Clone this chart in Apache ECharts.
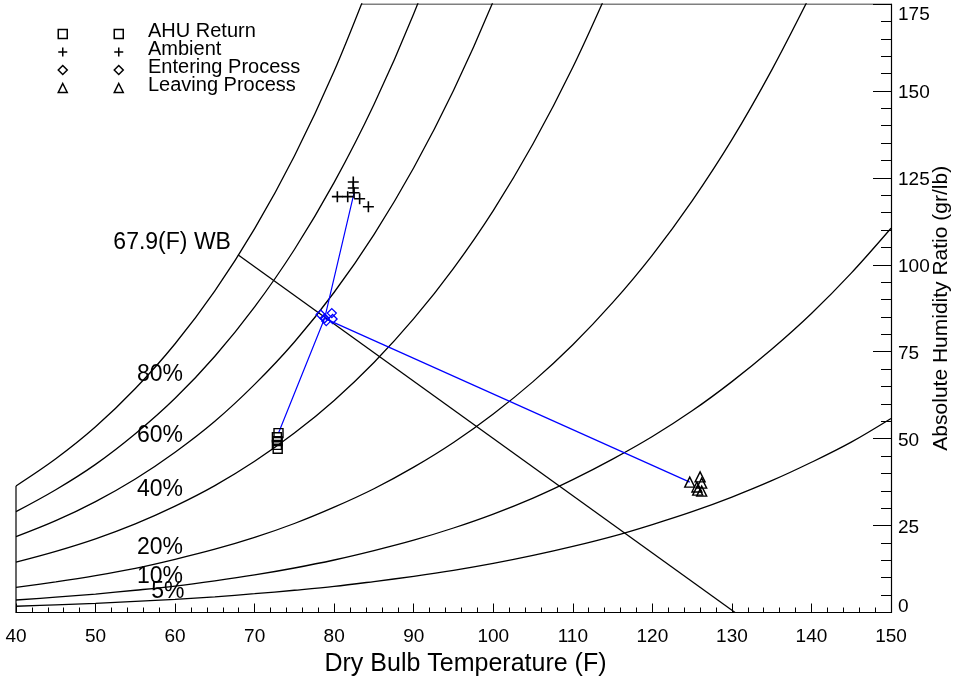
<!DOCTYPE html>
<html>
<head>
<meta charset="utf-8">
<script src="https://cdn.jsdelivr.net/npm/echarts@6/dist/echarts.min.js"></script>
<style>
  html, body { margin: 0; padding: 0; background: #fff; }
  #chart { width: 957px; height: 683px; }
</style>
</head>
<body>
<div id="chart"></div>
<script>
// Dry bulb temperature grid (F) used by the relative humidity curves
const tempF = [40, 45, 50, 55, 60, 65, 70, 75, 80, 85, 90, 95, 100, 105, 110, 115, 120, 125, 130, 135, 140, 145, 150];

// Humidity ratio (gr/lb) along each constant-RH curve, starting at 40 F
const rh100 = [36.4, 44.2, 53.4, 64.4, 77.3, 92.5, 110.4, 131.3, 155.7, 184.2];
const rh80 = [29.0, 35.3, 42.6, 51.4, 61.6, 73.7, 87.9, 104.4, 123.7, 146.1, 172.2, 202.5];
const rh60 = [21.8, 26.4, 31.9, 38.4, 46.1, 55.0, 65.6, 77.8, 92.1, 108.7, 127.9, 150.1, 175.8, 205.4];
const rh40 = [14.5, 17.6, 21.2, 25.5, 30.6, 36.5, 43.5, 51.6, 61.0, 71.9, 84.5, 99.0, 115.6, 134.8, 156.8, 181.9];
const rh20 = [7.2, 8.8, 10.6, 12.7, 15.3, 18.2, 21.6, 25.6, 30.3, 35.6, 41.8, 48.9, 57.1, 66.4, 77.0, 89.1, 102.8, 118.4, 136.0, 156.0, 178.2];
const rh10 = [3.6, 4.4, 5.3, 6.4, 7.6, 9.1, 10.8, 12.8, 15.1, 17.8, 20.8, 24.3, 28.3, 32.9, 38.2, 44.1, 50.6, 58.0, 66.4, 75.7, 86.0, 97.6, 110.5];
const rh5 = [1.8, 2.2, 2.6, 3.2, 3.8, 4.5, 5.4, 6.4, 7.5, 8.9, 10.4, 12.1, 14.1, 16.4, 19.0, 21.9, 25.3, 29.0, 33.2, 37.9, 43.2, 49.0, 55.8];

// Curve captions (the saturation curve carries none)
const rhNames = ['80%', '60%', '40%', '20%', '10%', '5%'];

// Constant wet bulb line: from saturation down to zero humidity
const wbLabel = '67.9(F) WB';
const wbLine = [[67.9, 102.9], [130.4, 0]];

// Measured states [dry bulb F, humidity ratio gr/lb]; first entry is the design point
const ahuReturn = [[73.0, 51.6], [72.8, 50.4], [72.9, 49.3], [72.8, 48.2], [72.9, 47.1]];
const ambient = [[82.5, 120.7], [82.4, 123.8], [82.4, 122.1], [81.7, 119.6], [80.4, 119.6], [83.2, 119.0], [84.3, 116.7]];
const enteringProcess = [[78.8, 84.6], [78.3, 85.7], [79.7, 86.1], [79.0, 83.8], [79.8, 84.4]];
const leavingProcess = [[124.7, 37.5], [126.0, 39.0], [126.2, 37.2], [125.6, 36.1], [125.7, 35.2], [126.2, 34.9]];

// Axis ticks
const xTicks = { min: 40, max: 150, step: 10 };
const yTicks = { min: 0, max: 175, step: 25 };

// ---- layout / style ----
const FONT = 'Liberation Sans, Arial, sans-serif';
const captionAt = [[58.1, 68.3], [58.1, 51.0], [58.1, 35.2], [58.1, 18.6], [58.1, 10.2], [59.1, 5.9]];

function curve(values) {
  return values.map((w, i) => [tempF[i], w]);
}

// where the saturation curve leaves the top of the chart
function exitAtTop(values, top) {
  for (let i = 1; i < values.length; i++) {
    if (values[i] >= top) {
      const f = (top - values[i - 1]) / (values[i] - values[i - 1]);
      return tempF[i - 1] + f * (tempF[i] - tempF[i - 1]);
    }
  }
  return tempF[values.length - 1];
}

const curveSeries = [rh100, rh80, rh60, rh40, rh20, rh10, rh5].map((vals) => ({
  type: 'line',
  data: curve(vals),
  showSymbol: false,
  smooth: 0.35,
  silent: true,
  lineStyle: { color: '#000', width: 1.3 },
  z: 2
}));

const satTop = exitAtTop(rh100, yTicks.max);
const frameSeries = {
  type: 'lines',
  coordinateSystem: 'cartesian2d',
  silent: true,
  polyline: true,
  lineStyle: { color: '#000', width: 1.2, opacity: 1 },
  data: [
    { coords: [[xTicks.min, yTicks.min], [xTicks.min, rh100[0]]] },
    { coords: [[satTop, yTicks.max], [xTicks.max, yTicks.max]] }
  ],
  z: 3
};

const hollow = { color: 'rgba(0,0,0,0)', borderColor: '#000', borderWidth: 1.4, opacity: 1 };
const plusPath = 'path://M0,5L10,5M5,0L5,10';

const legendBase = {
  orient: 'vertical', padding: 0, itemGap: -2, selectedMode: false,
  textStyle: { fontSize: 20, lineHeight: 18, fontFamily: FONT, color: '#000' }
};
const iconLegend = (left) => Object.assign({}, legendBase, {
  left: left, top: 24, itemWidth: 9, itemHeight: 9,
  formatter: () => ' ',
  itemStyle: { borderWidth: 1.5 },
  data: ['AHU Return', 'Ambient', { name: 'Entering Process', itemStyle: { borderColor: '#000' } }, 'Leaving Process']
});

const option = {
  animation: false,
  backgroundColor: '#fff',
  grid: { left: 16, right: 66, top: 4, bottom: 70.5, containLabel: false, outerBoundsMode: 'none' },
  xAxis: {
    type: 'value', min: xTicks.min, max: xTicks.max, interval: xTicks.step,
    position: 'bottom',
    axisLine: { show: true, lineStyle: { color: '#000', width: 1.2 } },
    axisTick: { show: true, inside: true, length: 9, lineStyle: { color: '#000' } },
    minorTick: { show: true, splitNumber: 5, length: 5, lineStyle: { color: '#000' } },
    splitLine: { show: false },
    axisLabel: { color: '#000', fontSize: 19, fontFamily: FONT, margin: 15 },
    name: 'Dry Bulb Temperature (F)',
    nameLocation: 'middle', nameGap: 39, nameMoveOverlap: false,
    nameTextStyle: { color: '#000', fontSize: 25, fontFamily: FONT, padding: [0, 0, 0, 24] }
  },
  yAxis: {
    type: 'value', min: yTicks.min, max: yTicks.max, interval: yTicks.step,
    position: 'right',
    axisLine: { show: true, lineStyle: { color: '#000', width: 1.2 } },
    axisTick: { show: true, inside: true, length: 18, lineStyle: { color: '#000' } },
    minorTick: { show: true, splitNumber: 5, length: 10, lineStyle: { color: '#000' } },
    splitLine: { show: false },
    axisLabel: {
      color: '#000', fontSize: 19, fontFamily: FONT, margin: 7,
      formatter: (v) => {
        if (v === yTicks.max) return '{top|' + v + '}';
        if (v === yTicks.min) return '{low|' + v + '}';
        return '{mid|' + v + '}';
      },
      rich: {
        top: { fontSize: 19, fontFamily: FONT, color: '#000', padding: [21, 0, 0, 0] },
        mid: { fontSize: 19, fontFamily: FONT, color: '#000', padding: [4, 0, 0, 0] },
        low: { fontSize: 19, fontFamily: FONT, color: '#000', padding: [0, 0, 12, 0] }
      }
    },
    name: 'Absolute Humidity Ratio (gr/lb)',
    nameLocation: 'middle', nameGap: 40, nameMoveOverlap: false,
    nameTextStyle: { color: '#000', fontSize: 21, fontFamily: FONT }
  },
  legend: [
    iconLegend(57.5),
    iconLegend(113.5),
    Object.assign({}, legendBase, {
      left: 143, top: 21, itemWidth: 0, itemHeight: 9, icon: 'none',
      data: ['AHU Return', 'Ambient', 'Entering Process', 'Leaving Process']
    })
  ],
  series: [
    ...curveSeries,
    frameSeries,
    {
      type: 'line', data: wbLine, showSymbol: false, silent: true,
      lineStyle: { color: '#000', width: 1.3 }, z: 2
    },
    {
      type: 'scatter', silent: true, symbolSize: 0, z: 4,
      itemStyle: { opacity: 1 },
      data: [{ value: wbLine[0] }],
      label: {
        show: true, position: 'left', distance: 7, offset: [0, -12],
        formatter: wbLabel, color: '#000', fontSize: 23, fontFamily: FONT
      }
    },
    {
      type: 'scatter', silent: true, symbolSize: 0, z: 4,
      itemStyle: { opacity: 1 },
      data: captionAt.map((p, i) => ({ value: p, name: rhNames[i] })),
      label: {
        show: true, position: 'inside', formatter: (p) => p.name,
        color: '#000', fontSize: 23, fontFamily: FONT
      }
    },
    {
      type: 'line', silent: true, showSymbol: false, z: 5,
      data: [ambient[0], enteringProcess[0], ahuReturn[0]],
      lineStyle: { color: '#0000ff', width: 1.2 }
    },
    {
      type: 'line', silent: true, showSymbol: false, z: 5,
      data: [enteringProcess[0], leavingProcess[0]],
      lineStyle: { color: '#0000ff', width: 1.2 }
    },
    {
      name: 'AHU Return', type: 'scatter', data: ahuReturn, symbol: 'rect', symbolSize: 9,
      itemStyle: hollow, z: 6
    },
    {
      name: 'Ambient', type: 'scatter', data: ambient, symbol: plusPath, symbolSize: 11,
      itemStyle: { color: 'rgba(0,0,0,0)', borderColor: '#000', borderWidth: 1.6, opacity: 1 }, z: 6
    },
    {
      name: 'Entering Process', type: 'scatter', data: enteringProcess, symbol: 'diamond', symbolSize: 9,
      itemStyle: { color: 'rgba(0,0,0,0)', borderColor: '#0000ff', borderWidth: 1.3, opacity: 1 }, z: 6
    },
    {
      name: 'Leaving Process', type: 'scatter', data: leavingProcess, symbol: 'triangle', symbolSize: 10,
      itemStyle: hollow, z: 6
    }
  ]
};

const chart = echarts.init(document.getElementById('chart'), null, { renderer: 'canvas' });
chart.setOption(option);
</script>
</body>
</html>
